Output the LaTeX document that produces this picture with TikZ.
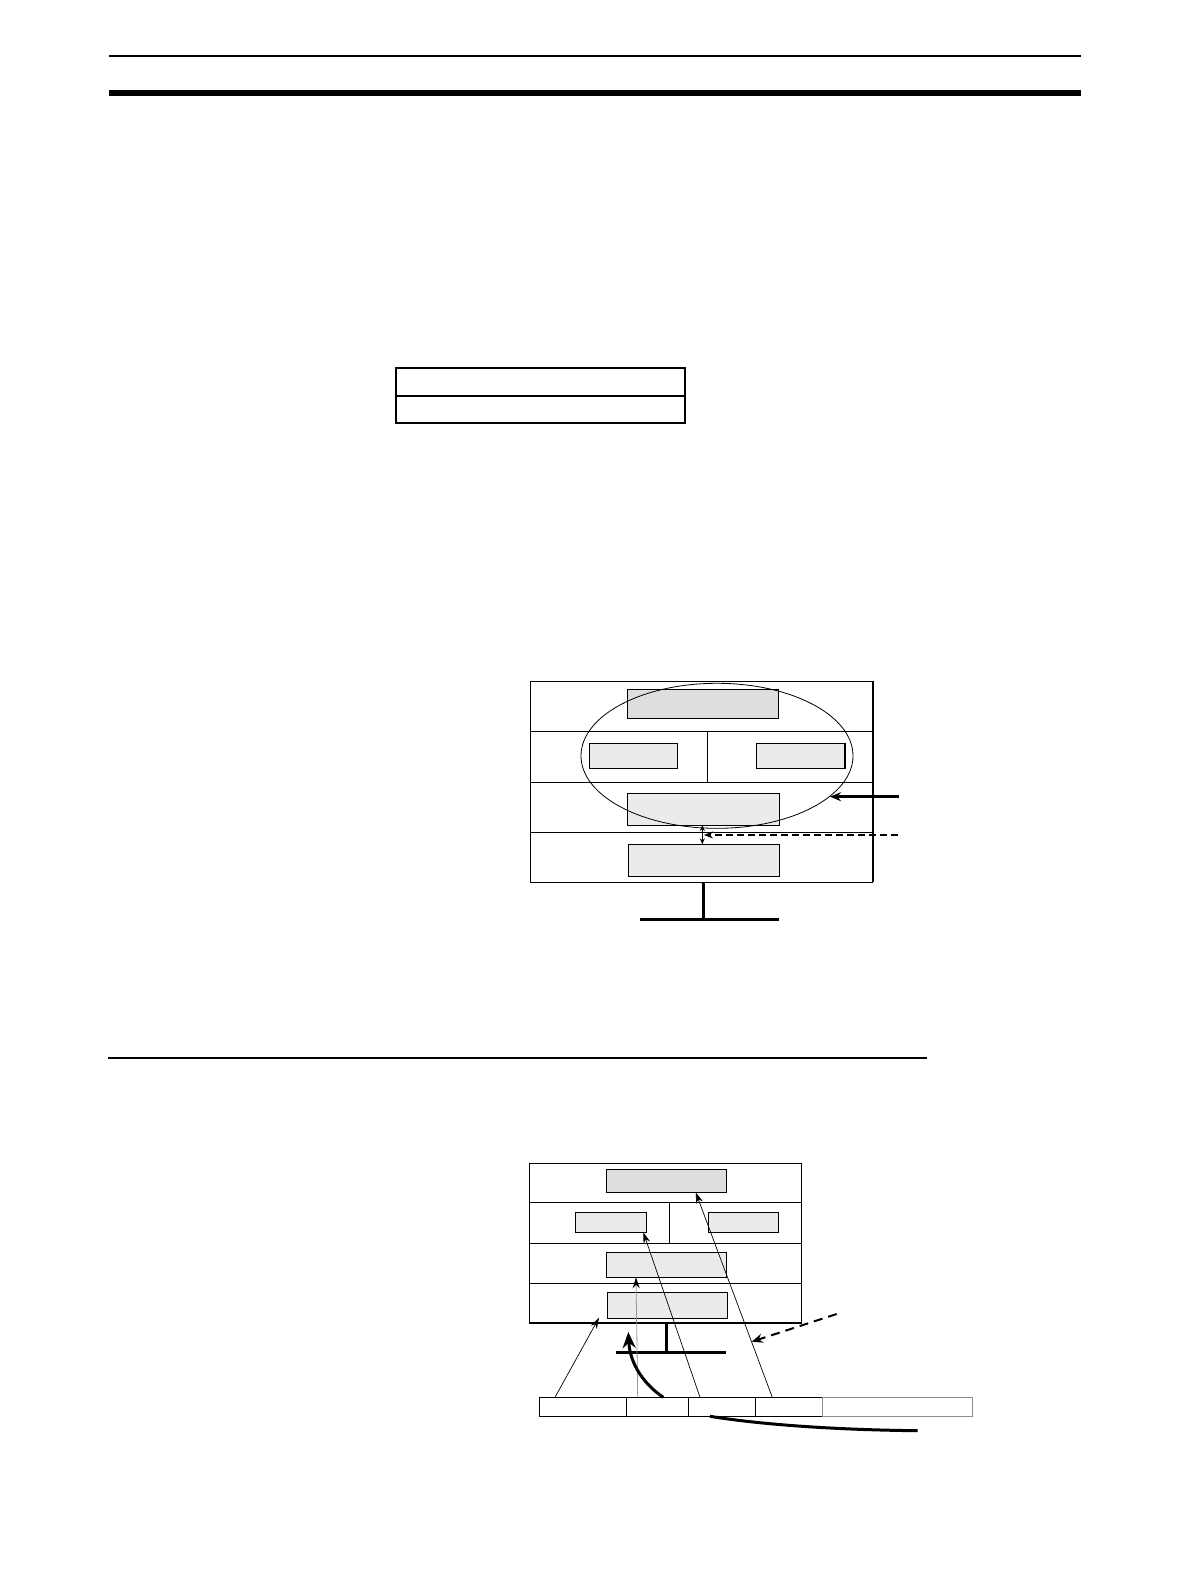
\documentclass[tikz,border=0pt]{standalone}
\usetikzlibrary{arrows.meta,shapes.geometric}
\begin{document}
\begin{tikzpicture}[x=1pt,y=-1pt,
  frame/.style={draw=black,line width=1pt},
  gbox/.style={draw=black,line width=1pt,fill=black!8,anchor=north west,inner sep=0pt,outer sep=0pt},
  dbox/.style={draw=black,line width=1pt,fill=black!13,anchor=north west,inner sep=0pt,outer sep=0pt},
  cell/.style={draw=black,line width=1pt,anchor=north west,inner sep=0pt,outer sep=0pt,minimum height=19pt},
  thinarrow/.style={line width=0.7pt,-{Stealth[length=11pt,width=7pt]}},
  heavy/.style={line width=3pt}
]
\useasboundingbox (0,0) rectangle (1190,1586);
% page rules
\draw[line width=2pt] (109,55.7) -- (1081,55.7);
\fill (109,90) rectangle (1081,96);
% table
\node[draw,line width=2pt,anchor=north west,minimum width=289pt,minimum height=27.4pt,inner sep=0pt] (t1) at (395.3,367.3) {};
\node[draw,line width=2pt,anchor=north west,minimum width=289pt,minimum height=27pt,inner sep=0pt] (t2) at (395.3,394.7) {};
% rule
\draw[line width=2pt] (108,1058) -- (927,1058);

% ---------- diagram 1 ----------
\draw[frame] (873,681) -- (530,681) -- (530,882) -- (873,882);
\draw[line width=2.2pt] (873,681) -- (873,882);
\draw[frame] (530,731) -- (873,731);
\draw[frame] (530,782.3) -- (873,782.3);
\draw[frame] (530,832.3) -- (873,832.3);
\draw[frame] (707.3,731) -- (707.3,782.3);
\node[dbox,minimum width=151.4pt,minimum height=29pt] (a1) at (627.3,689.3) {};
\node[gbox,minimum width=88pt,minimum height=25pt] (a2) at (589.3,743.3) {};
\node[gbox,minimum width=88.7pt,minimum height=25pt] (a3) at (756.3,743.3) {};
\draw[line width=2pt] (845,743.3) -- (845,768.3);
\node[gbox,minimum width=152pt,minimum height=31.7pt] (a4) at (627.3,793.3) {};
\node[gbox,minimum width=151pt,minimum height=32pt] (a5) at (628.3,844.3) {};
\node[draw,ellipse,line width=0.8pt,minimum width=272pt,minimum height=145pt,inner sep=0pt] (ell) at (717,755.8) {};
\coordinate (s1) at (899,796.7);
\coordinate (s1e) at (830,796.7);
\draw[heavy,-{Stealth[length=11pt,width=9pt]}] (s1) -- (s1e);
\coordinate (d1) at (898,835);
\coordinate (d1e) at (704,835);
\draw[line width=2pt,dash pattern=on 7pt off 4pt,-{Stealth[length=9pt,width=7pt]}] (d1) -- (d1e);
\draw[line width=1pt,{Stealth[length=6pt,width=5pt]}-{Stealth[length=6pt,width=5pt]}] (a4.south -| 702.3,0) -- (a5.north -| 702.3,0);
\coordinate (st1) at (703,882);
\coordinate (st1b) at (703,919);
\draw[heavy] (st1) -- (st1b);
\draw[heavy] (640,919) -- (778.7,919);

% ---------- diagram 2 ----------
\draw[frame] (801.7,1322.7) -- (801.7,1163.3) -- (529.3,1163.3) -- (529.3,1322.7);
\draw[line width=2.2pt] (529.3,1322.7) -- (801.7,1322.7);
\draw[frame] (529.3,1202.3) -- (801.7,1202.3);
\draw[frame] (529.3,1243.7) -- (801.7,1243.7);
\draw[frame] (529.3,1283.7) -- (801.7,1283.7);
\draw[frame] (669.7,1202.3) -- (669.7,1243.7);
\node[dbox,minimum width=120.4pt,minimum height=23pt] (b1) at (606.3,1169.3) {};
\node[gbox,minimum width=71.4pt,minimum height=20pt] (b2) at (575.3,1212.3) {};
\node[gbox,minimum width=70.4pt,minimum height=20pt] (b3) at (708.3,1212.3) {};
\node[gbox,minimum width=120.4pt,minimum height=25pt] (b4) at (606.3,1252.3) {};
\node[gbox,minimum width=120.4pt,minimum height=26pt] (b5) at (607.3,1292.3) {};
\draw[heavy] (666,1322.7) -- (666,1352);
\draw[heavy] (616,1352) -- (726,1352);
% strip
\node[cell,minimum width=87.4pt] (c1) at (539.3,1397.3) {};
\node[cell,minimum width=62pt] (c2) at (626.7,1397.3) {};
\node[cell,minimum width=67pt] (c3) at (688.7,1397.3) {};
\node[cell,minimum width=67pt] (c4) at (755.7,1397.3) {};
\node[cell,draw=black!45,minimum width=149.3pt] (c5) at (822.7,1397.3) {};
% thin arrows
\coordinate (p1) at (599,1317.7);
\coordinate (p2) at (636,1277.3);
\coordinate (p3) at (643.3,1232.3);
\coordinate (p4) at (695.7,1192.3);
\draw[thinarrow] (555,1397.3) -- (p1);
\draw[line width=0.8pt,draw=black!40,-{Stealth[length=11pt,width=7pt,color=black]}] (637.7,1397.3) -- (p2);
\draw[thinarrow] (700,1397.3) -- (p3);
\draw[thinarrow] (772.3,1397.3) -- (p4);
% heavy curved arrow
\coordinate (h1) at (663.3,1397.3);
\coordinate (h1e) at (628.3,1332);
\draw[line width=3pt,-{Stealth[length=16pt,width=13pt]}] (h1) .. controls (645,1385) and (630,1365) .. (h1e);
% bottom curve
\coordinate (q1) at (710,1416.3);
\coordinate (q2) at (917.7,1430.7);
\draw[line width=3pt] (q1) .. controls (770,1426) and (850,1430) .. (q2);
% dashed arrow
\coordinate (dd1) at (836.7,1314);
\coordinate (dd2) at (751.7,1341.7);
\draw[line width=2pt,dash pattern=on 9pt off 6pt,-{Stealth[length=11pt,width=9pt]}] (dd1) -- (dd2);
\end{tikzpicture}
\end{document}
